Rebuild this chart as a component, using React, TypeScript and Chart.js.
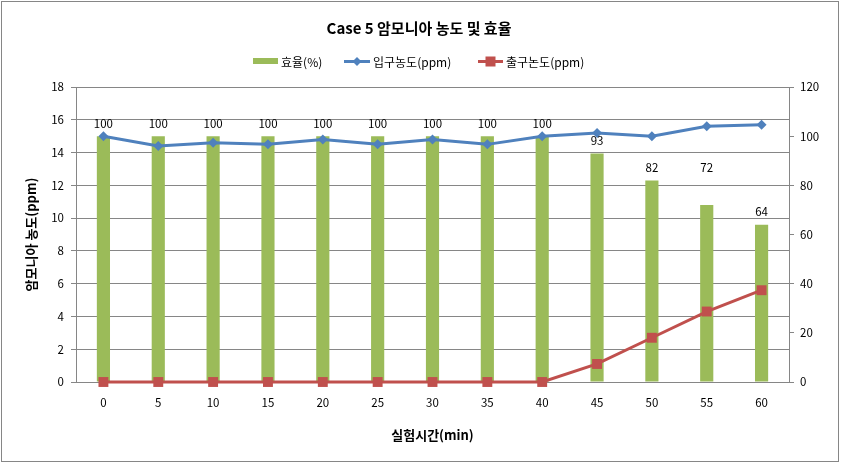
import React, { useEffect, useRef } from "react";
import { Chart, registerables } from "chart.js";

Chart.register(...registerables);

const categories = ["0", "5", "10", "15", "20", "25", "30", "35", "40", "45", "50", "55", "60"];
const efficiency = [100, 100, 100, 100, 100, 100, 100, 100, 100, 93, 82, 72, 64];
const inletConc = [15.0, 14.4, 14.6, 14.5, 14.8, 14.5, 14.8, 14.5, 15.0, 15.2, 15.0, 15.6, 15.7];
const outletConc = [0, 0, 0, 0, 0, 0, 0, 0, 0, 1.1, 2.7, 4.3, 5.6];

const titleText = "Case 5 암모니아 농도 및 효율";
const legendLabels = ["효율(%)", "입구농도(ppm)", "출구논도(ppm)"];
const xTitle = "실험시간(min)";
const yTitle = "암모니아 농도(ppm)";

const GREEN = "#9BBB59";
const BLUE = "#4F81BD";
const RED = "#C0504D";
const GRID = "#868686";
const FONT = "'Noto Sans CJK KR', 'Noto Sans', sans-serif";

const decorPlugin = {
  id: "decor",
  beforeDraw(chart: any) {
    const ctx = chart.ctx;
    ctx.save();
    ctx.fillStyle = "#ffffff";
    ctx.fillRect(0, 0, chart.width, chart.height);
    ctx.strokeStyle = GRID;
    ctx.lineWidth = 1;
    ctx.strokeRect(1.5, 1.5, chart.width - 4, chart.height - 3);
    ctx.restore();
  },
  afterDraw(chart: any) {
    const ctx = chart.ctx;
    ctx.save();
    // title
    ctx.fillStyle = "#000";
    ctx.textAlign = "center";
    ctx.textBaseline = "middle";
    ctx.font = `bold 15px ${FONT}`;
    ctx.fillText(titleText, 419, 28);
    // legend
    ctx.font = `12px ${FONT}`;
    ctx.textAlign = "left";
    const ly = 61.5;
    // bar box
    ctx.fillStyle = GREEN;
    ctx.fillRect(253, 58, 25, 6);
    ctx.fillStyle = "#000";
    ctx.fillText(legendLabels[0], 281, ly + 1);
    // blue line
    ctx.strokeStyle = BLUE;
    ctx.lineWidth = 3;
    ctx.beginPath();
    ctx.moveTo(344, ly);
    ctx.lineTo(370, ly);
    ctx.stroke();
    ctx.fillStyle = BLUE;
    ctx.beginPath();
    ctx.moveTo(357, ly - 4.5);
    ctx.lineTo(361.5, ly);
    ctx.lineTo(357, ly + 4.5);
    ctx.lineTo(352.5, ly);
    ctx.closePath();
    ctx.fill();
    ctx.fillStyle = "#000";
    ctx.fillText(legendLabels[1], 373, ly + 1);
    // red line
    ctx.strokeStyle = RED;
    ctx.beginPath();
    ctx.moveTo(478, ly);
    ctx.lineTo(503, ly);
    ctx.stroke();
    ctx.fillStyle = RED;
    ctx.fillRect(485.5, ly - 5, 10, 10);
    ctx.fillStyle = "#000";
    ctx.fillText(legendLabels[2], 506, ly + 1);
    ctx.restore();
  },
  afterDatasetsDraw(chart: any) {
    const ctx = chart.ctx;
    const meta = chart.getDatasetMeta(0);
    const extraLift: Record<number, number> = { 11: 24 };
    ctx.save();
    ctx.fillStyle = "#000";
    ctx.font = `11.5px ${FONT}`;
    ctx.textAlign = "center";
    ctx.textBaseline = "middle";
    meta.data.forEach((el: any, i: number) => {
      const v = chart.data.datasets[0].data[i];
      ctx.fillText(String(v), el.x, el.y - 13 - (extraLift[i] || 0));
    });
    ctx.restore();
  },
};

export default function App() {
  const canvasRef = useRef<HTMLCanvasElement | null>(null);

  useEffect(() => {
    if (!canvasRef.current) return;
    const chart = new Chart(canvasRef.current, {
      type: "bar",
      data: {
        labels: categories,
        datasets: [
          {
            type: "bar",
            label: legendLabels[0],
            data: efficiency,
            backgroundColor: GREEN,
            yAxisID: "y1",
            categoryPercentage: 1,
            barPercentage: 0.24,
            order: 3,
          } as any,
          {
            type: "line",
            label: legendLabels[1],
            data: inletConc,
            borderColor: BLUE,
            backgroundColor: BLUE,
            borderWidth: 3,
            pointStyle: "rectRot",
            pointRadius: 5,
            pointBorderWidth: 0,
            yAxisID: "y",
            order: 2,
            clip: false,
          } as any,
          {
            type: "line",
            label: legendLabels[2],
            data: outletConc,
            borderColor: RED,
            backgroundColor: RED,
            borderWidth: 3,
            pointStyle: "rect",
            pointRadius: 7,
            pointBorderWidth: 0,
            yAxisID: "y",
            order: 1,
            clip: false,
          } as any,
        ],
      },
      options: {
        responsive: false,
        animation: false,
        devicePixelRatio: 1,
        layout: { padding: { top: 87, left: 0, right: 0, bottom: 0 } },
        plugins: {
          legend: { display: false },
          title: { display: false },
          tooltip: { enabled: false },
        },
        scales: {
          x: {
            grid: { display: false, drawTicks: false },
            border: { display: true, color: GRID, width: 1 },
            ticks: { color: "#000", font: { family: FONT, size: 11.5 }, padding: 14, maxRotation: 0 },
            title: {
              display: true,
              text: xTitle,
              color: "#000",
              font: { family: FONT, size: 13, weight: "bold" },
              padding: { top: 14, bottom: 20 },
            },
            afterFit: (s: any) => {
              s.height = 81;
            },
          },
          y: {
            position: "left",
            min: 0,
            max: 18,
            ticks: { stepSize: 2, color: "#000", font: { family: FONT, size: 11.5 }, padding: 7 },
            grid: { color: GRID, tickLength: 5, tickColor: GRID, drawTicks: true },
            border: { display: true, color: GRID },
            title: {
              display: true,
              text: yTitle,
              color: "#000",
              font: { family: FONT, size: 13, weight: "bold" },
              padding: { top: 23, bottom: 0 },
            },
            afterFit: (s: any) => {
              s.width = 76;
            },
          },
          y1: {
            position: "right",
            min: 0,
            max: 120,
            ticks: { stepSize: 20, color: "#000", font: { family: FONT, size: 11.5 }, padding: 6 },
            grid: { drawOnChartArea: false, tickLength: 5, tickColor: GRID, drawTicks: true },
            border: { display: true, color: GRID },
            afterFit: (s: any) => {
              s.width = 52;
            },
          },
        },
      } as any,
      plugins: [decorPlugin],
    });
    return () => chart.destroy();
  }, []);

  return (
    <div style={{ position: "fixed", left: 0, top: 0, width: 841, height: 463, background: "#fff" }}>
      <canvas ref={canvasRef} width={841} height={463} style={{ display: "block" }} />
    </div>
  );
}
